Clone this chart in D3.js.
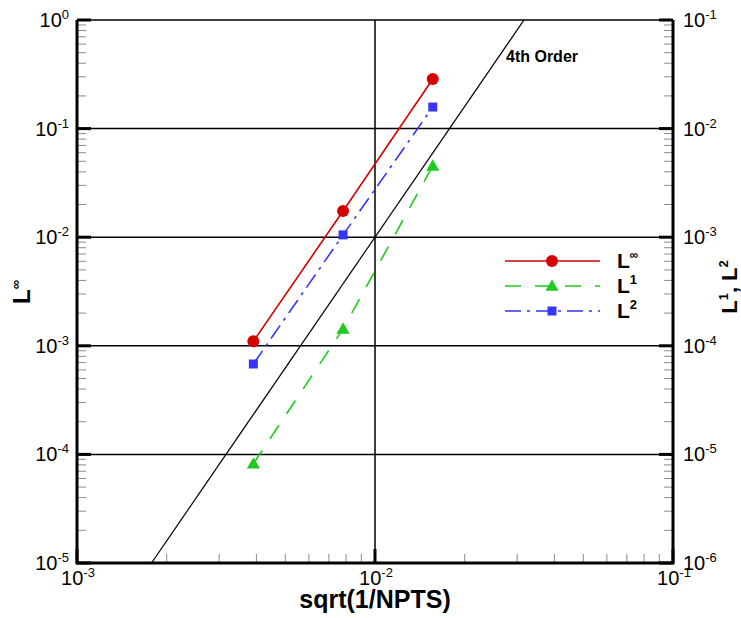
<!DOCTYPE html>
<html>
<head>
<meta charset="utf-8">
<script src="https://cdn.jsdelivr.net/npm/d3@7"></script>
<style>
  html, body { margin: 0; padding: 0; background: #fff; }
  svg { display: block; font-family: "Liberation Sans", Arial, Helvetica, sans-serif; }
</style>
</head>
<body>
<svg id="chart" width="741" height="618"></svg>
<script>
// Grid spacing h = sqrt(1/NPTS)
const gridSpacing = [0.00390625, 0.0078125, 0.015625];
// L-infinity error (left axis)
const errLinf = [1.1e-3, 1.74e-2, 2.86e-1];
// L1 and L2 errors (right axis)
const errL1 = [8.2e-6, 1.43e-4, 4.53e-3];
const errL2 = [6.8e-5, 1.05e-3, 1.58e-2];
// Reference slope line (4th order), left-axis units
const orderX = [0.0017783, 0.031623];
const orderY = [1e-5, 1e0];

const xTicks = [1e-3, 1e-2, 1e-1];
const xTickLabels = ["-3", "-2", "-1"];
const yLeftTicks = [1e0, 1e-1, 1e-2, 1e-3, 1e-4, 1e-5];
const yLeftLabels = ["0", "-1", "-2", "-3", "-4", "-5"];
const yRightTicks = [1e-1, 1e-2, 1e-3, 1e-4, 1e-5, 1e-6];
const yRightLabels = ["-1", "-2", "-3", "-4", "-5", "-6"];

const svg = d3.select("#chart");
const L = 77, R = 673, T = 20, B = 563;

const x = d3.scaleLog().domain([1e-3, 1e-1]).range([L, R]);
const yL = d3.scaleLog().domain([1e-5, 1e0]).range([B, T]);
const yR = d3.scaleLog().domain([1e-6, 1e-1]).range([B, T]);

// minor tick values (2..9 within each decade)
function minors(lo, hi) {
  const out = [];
  for (let e = lo; e < hi; e++) for (let k = 2; k <= 9; k++) out.push(k * Math.pow(10, e));
  return out;
}

const g = svg.append("g");

// horizontal gridlines at each decade
g.selectAll("line.hgrid").data(yLeftTicks).join("line")
  .attr("x1", L).attr("x2", R)
  .attr("y1", d => yL(d)).attr("y2", d => yL(d))
  .attr("stroke", "#000").attr("stroke-width", 1.5);
// vertical gridline at 10^-2
g.selectAll("line.vgrid").data([1e-2]).join("line")
  .attr("x1", d => x(d)).attr("x2", d => x(d))
  .attr("y1", T).attr("y2", B)
  .attr("stroke", "#000").attr("stroke-width", 1.5);

// minor ticks
const minorColor = "#8a8a8a";
g.selectAll("line.lminor").data(minors(-5, 0)).join("line")
  .attr("x1", L).attr("x2", L + 9)
  .attr("y1", d => yL(d)).attr("y2", d => yL(d))
  .attr("stroke", minorColor).attr("stroke-width", 1);
g.selectAll("line.rminor").data(minors(-6, -1)).join("line")
  .attr("x1", R - 9).attr("x2", R)
  .attr("y1", d => yR(d)).attr("y2", d => yR(d))
  .attr("stroke", minorColor).attr("stroke-width", 1);
g.selectAll("line.bminor").data(minors(-3, -1)).join("line")
  .attr("x1", d => x(d)).attr("x2", d => x(d))
  .attr("y1", B).attr("y2", B - 9)
  .attr("stroke", minorColor).attr("stroke-width", 1);

// major ticks
g.selectAll("line.lmajor").data(yLeftTicks).join("line")
  .attr("x1", L).attr("x2", L + 14)
  .attr("y1", d => yL(d)).attr("y2", d => yL(d))
  .attr("stroke", "#000").attr("stroke-width", 3);
g.selectAll("line.rmajor").data(yRightTicks).join("line")
  .attr("x1", R - 14).attr("x2", R)
  .attr("y1", d => yR(d)).attr("y2", d => yR(d))
  .attr("stroke", "#000").attr("stroke-width", 3);
g.selectAll("line.bmajor").data(xTicks).join("line")
  .attr("x1", d => x(d)).attr("x2", d => x(d))
  .attr("y1", B).attr("y2", B - 14)
  .attr("stroke", "#000").attr("stroke-width", 3);

// axis frame: left, bottom, right
g.append("path")
  .attr("d", `M${L},${T}V${B}H${R}V${T}`)
  .attr("fill", "none").attr("stroke", "#000").attr("stroke-width", 3)
  .attr("stroke-linejoin", "miter");

// clip for data lines
svg.append("clipPath").attr("id", "plotclip")
  .append("rect").attr("x", L).attr("y", T).attr("width", R - L).attr("height", B - T);

// 4th order reference line
g.append("path")
  .datum(orderX.map((v, i) => [v, orderY[i]]))
  .attr("clip-path", "url(#plotclip)")
  .attr("d", d3.line().x(d => x(d[0])).y(d => yL(d[1])))
  .attr("fill", "none").attr("stroke", "#000").attr("stroke-width", 1.2);

g.append("text").attr("x", 506).attr("y", 62)
  .attr("font-size", 16).attr("font-weight", "bold").text("4th Order");

// series
const series = [
  { name: "∞", vals: errLinf, y: yL, color: "#d40000", dash: null, marker: "circle", width: 1.6 },
  { name: "1", vals: errL1, y: yR, color: "#1ecb1e", dash: "16,14", marker: "triangle", width: 1.6 },
  { name: "2", vals: errL2, y: yR, color: "#3636f5", dash: "16,6,3,6", marker: "square", width: 1.6 }
];

function drawMarker(sel, type, color) {
  if (type === "circle") {
    sel.append("circle").attr("r", 6).attr("fill", color);
  } else if (type === "triangle") {
    sel.append("path").attr("d", d3.symbol().type(d3.symbolTriangle).size(75)()).attr("fill", color)
      .attr("transform", "translate(0,1)");
  } else {
    sel.append("rect").attr("x", -4.5).attr("y", -4.5).attr("width", 9).attr("height", 9).attr("fill", color);
  }
}

series.forEach(s => {
  const pts = gridSpacing.map((h, i) => [h, s.vals[i]]);
  g.append("path")
    .datum(pts)
    .attr("d", d3.line().x(d => x(d[0])).y(d => s.y(d[1])))
    .attr("fill", "none").attr("stroke", s.color).attr("stroke-width", s.width)
    .attr("stroke-dasharray", s.dash);
  pts.forEach(p => {
    const m = g.append("g").attr("transform", `translate(${x(p[0])},${s.y(p[1])})`);
    drawMarker(m, s.marker, s.color);
  });
});

// legend
const legY = [261, 286, 311];
series.forEach((s, i) => {
  const lg = g.append("g").attr("transform", `translate(0,${legY[i]})`);
  lg.append("line").attr("x1", 505).attr("x2", 600).attr("y1", 0).attr("y2", 0)
    .attr("stroke", s.color).attr("stroke-width", s.width).attr("stroke-dasharray", s.dash);
  const m = lg.append("g").attr("transform", "translate(552,0)");
  drawMarker(m, s.marker, s.color);
  const t = lg.append("text").attr("x", 617).attr("y", 7).attr("font-weight", "bold").attr("font-size", 21);
  t.append("tspan").text("L");
  t.append("tspan").attr("dy", -9).attr("font-size", s.name === "∞" ? 12 : 13).text(s.name);
});

// tick labels: 10 with a raised exponent
function powLabel(sel, exp) {
  sel.append("tspan").text("10");
  sel.append("tspan").attr("dy", -8).attr("font-size", 13).text(exp);
}
const labels = svg.append("g").attr("font-size", 20).attr("fill", "#000");
yLeftTicks.forEach((v, i) => {
  labels.append("text").attr("x", 69).attr("y", yL(v) + 7).attr("text-anchor", "end")
    .call(powLabel, yLeftLabels[i]);
});
yRightTicks.forEach((v, i) => {
  labels.append("text").attr("x", 683).attr("y", yR(v) + 7).attr("text-anchor", "start")
    .call(powLabel, yRightLabels[i]);
});
xTicks.forEach((v, i) => {
  labels.append("text").attr("x", x(v) + 1).attr("y", 585).attr("text-anchor", "middle")
    .call(powLabel, xTickLabels[i]);
});

// axis titles
svg.append("text").attr("x", 375).attr("y", 608).attr("text-anchor", "middle")
  .attr("font-size", 25).attr("font-weight", "bold").text("sqrt(1/NPTS)");

const lt = svg.append("text").attr("transform", "translate(30,292) rotate(-90)")
  .attr("text-anchor", "middle").attr("font-size", 24).attr("font-weight", "bold");
lt.append("tspan").text("L");
lt.append("tspan").attr("dy", -10).attr("font-size", 13).text("∞");

const rt = svg.append("text").attr("transform", "translate(737,287) rotate(-90)")
  .attr("text-anchor", "middle").attr("font-size", 22).attr("font-weight", "bold");
rt.append("tspan").text("L");
rt.append("tspan").attr("dy", -9).attr("font-size", 13).text("1");
rt.append("tspan").attr("dy", 9).text(", L");
rt.append("tspan").attr("dy", -9).attr("font-size", 13).text("2");
</script>
</body>
</html>
